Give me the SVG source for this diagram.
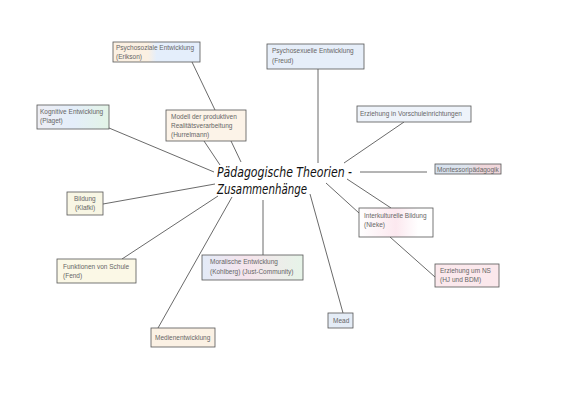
<svg xmlns="http://www.w3.org/2000/svg" width="565" height="400" viewBox="0 0 565 400">
<defs>
<linearGradient id="gErik" x1="0" x2="1" y1="0" y2="0"><stop offset="0" stop-color="#fbf0e2"/><stop offset="0.4" stop-color="#fbf0e2"/><stop offset="0.5" stop-color="#e4eefb"/><stop offset="1" stop-color="#e4eefb"/></linearGradient>
<linearGradient id="gPia" x1="0" x2="1" y1="0" y2="0"><stop offset="0" stop-color="#eeeef4"/><stop offset="0.5" stop-color="#e4eefa"/><stop offset="1" stop-color="#e3f4e6"/></linearGradient>
<linearGradient id="gMont" x1="0" x2="1" y1="0" y2="0"><stop offset="0" stop-color="#d6e1ee"/><stop offset="0.5" stop-color="#dde3ec"/><stop offset="0.7" stop-color="#efd6da"/><stop offset="1" stop-color="#f1d8dc"/></linearGradient>
<linearGradient id="gInt" x1="0" x2="1" y1="0" y2="0"><stop offset="0" stop-color="#ffffff"/><stop offset="0.5" stop-color="#fce8ef"/><stop offset="0.8" stop-color="#ffffff"/></linearGradient>
<linearGradient id="gKohl" x1="0" x2="1" y1="0" y2="0"><stop offset="0" stop-color="#e3ebf8"/><stop offset="0.45" stop-color="#f6e4ec"/><stop offset="1" stop-color="#e6f4e8"/></linearGradient>
<style>
.box{stroke:#555;stroke-width:0.8}
.t{font-family:"Liberation Sans",Arial,sans-serif;font-size:6.5px;fill:#666}
.c line{stroke:#444;stroke-width:0.8}
.title{font-family:"DejaVu Sans Condensed","DejaVu Sans",sans-serif;font-size:14px;fill:#111;font-style:italic}
</style>
</defs>
<rect width="565" height="400" fill="#ffffff"/>
<g class="c" id="connectors">
<line x1="192" y1="62" x2="215" y2="110"/>
<line x1="204" y1="141" x2="220" y2="165"/>
<line x1="231" y1="141" x2="241" y2="162"/>
<line x1="109" y1="128" x2="214" y2="172"/>
<line x1="318" y1="69" x2="318" y2="163"/>
<line x1="404" y1="122" x2="344" y2="163"/>
<line x1="360" y1="172" x2="427" y2="172"/>
<line x1="347" y1="179" x2="391" y2="208"/>
<line x1="326" y1="183" x2="359" y2="213"/>
<line x1="390" y1="237" x2="435" y2="277"/>
<line x1="103" y1="204" x2="215" y2="184"/>
<line x1="122" y1="259" x2="218" y2="196"/>
<line x1="263" y1="200" x2="263" y2="255"/>
<line x1="158" y1="328" x2="232" y2="197"/>
<line x1="343" y1="313" x2="310" y2="194"/>
</g>
<g id="center">
<text class="title" x="217" y="177" textLength="135" lengthAdjust="spacingAndGlyphs">Pädagogische Theorien -</text>
<text class="title" x="217" y="194" textLength="90" lengthAdjust="spacingAndGlyphs">Zusammenhänge</text>
</g>
<g id="erikson"><rect class="box" x="113" y="42" width="87" height="20" fill="url(#gErik)"/><text class="t" x="116" y="50">Psychosoziale Entwicklung</text><text class="t" x="116" y="59">(Erikson)</text></g>
<g id="hurrelmann"><rect class="box" x="166" y="110" width="80" height="31" fill="#fcf3e8"/><text class="t" x="171" y="119">Modell der produktiven</text><text class="t" x="171" y="128">Realitätsverarbeitung</text><text class="t" x="171" y="137">(Hurrelmann)</text></g>
<g id="freud"><rect class="box" x="267" y="44" width="97" height="25" fill="#e6eef9"/><text class="t" x="272" y="53">Psychosexuelle Entwicklung</text><text class="t" x="272" y="63">(Freud)</text></g>
<g id="vorschule"><rect class="box" x="357" y="106" width="114" height="16" fill="#eef3fa"/><text class="t" x="360" y="116">Erziehung in Vorschuleinrichtungen</text></g>
<g id="piaget"><rect class="box" x="37" y="105" width="72" height="24" fill="url(#gPia)"/><text class="t" x="40" y="114">Kognitive Entwicklung</text><text class="t" x="40" y="123">(Piaget)</text></g>
<g id="montessori"><rect class="box" x="435" y="164" width="66" height="10" fill="url(#gMont)"/><text class="t" x="437" y="171.5">Montessoripädagogik</text></g>
<g id="interkulturell"><rect class="box" x="359" y="208" width="74" height="29" fill="url(#gInt)"/><text class="t" x="364" y="218">Interkulturelle Bildung</text><text class="t" x="364" y="227">(Nieke)</text></g>
<g id="ns"><rect class="box" x="435" y="264" width="64" height="23" fill="#fbe8ec"/><text class="t" x="440" y="273">Erziehung um NS</text><text class="t" x="440" y="282">(HJ und BDM)</text></g>
<g id="bildung"><rect class="box" x="67" y="192" width="36" height="23" fill="#f8f6e4"/><text class="t" x="74" y="201">Bildung</text><text class="t" x="75" y="210">(Klafki)</text></g>
<g id="fend"><rect class="box" x="57" y="259" width="79" height="24" fill="#fbf8e6"/><text class="t" x="63" y="269">Funktionen von Schule</text><text class="t" x="63" y="278">(Fend)</text></g>
<g id="kohlberg"><rect class="box" x="202" y="255" width="101" height="25" fill="url(#gKohl)"/><text class="t" x="210" y="264">Moralische Entwicklung</text><text class="t" x="210" y="274">(Kohlberg) (Just-Community)</text></g>
<g id="medien"><rect class="box" x="151" y="328" width="64" height="19" fill="#fbf1e4"/><text class="t" x="155" y="340">Medienentwicklung</text></g>
<g id="mead"><rect class="box" x="328" y="313" width="25" height="15" fill="#e4ecf6"/><text class="t" x="333" y="322.5">Mead</text></g>
</svg>
